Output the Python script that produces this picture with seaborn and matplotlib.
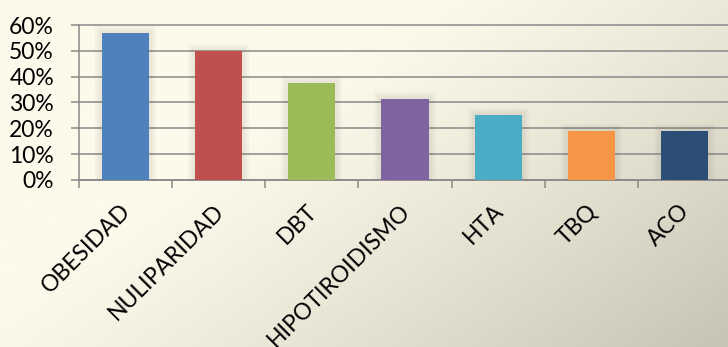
import numpy as np
import pandas as pd
import matplotlib
matplotlib.use("Agg")
import matplotlib.pyplot as plt
import matplotlib.patheffects as pe
from matplotlib.ticker import PercentFormatter, FixedLocator
from matplotlib.transforms import ScaledTranslation
import seaborn as sns

# Frequency of each risk factor among the patients
categories = ["OBESIDAD", "NULIPARIDAD", "DBT", "HIPOTIROIDISMO", "HTA", "TBQ", "ACO"]
values = [0.57, 0.50, 0.375, 0.313, 0.25, 0.19, 0.19]
colors = ["#4F81BD", "#C0504D", "#9BBB59", "#8064A2", "#4BACC6", "#F79646", "#2C4D75"]
y_ticks = [0, 0.1, 0.2, 0.3, 0.4, 0.5, 0.6]

sns.set_theme(style="white")
plt.rcParams["font.family"] = ["Lato", "DejaVu Sans"]

W, H = 728, 347
fig = plt.figure(figsize=(W / 100, H / 100), dpi=100)

# Cream-to-grey diagonal background wash
bg = fig.add_axes([0, 0, 1, 1], zorder=-10)
gx, gy = np.meshgrid(np.linspace(0, 1, 400), np.linspace(0, 1, 200))
t = np.clip((gx * 0.6 + gy * 0.4 - 0.35) / 0.65, 0, 1) ** 1.2
c0 = np.array([253, 250, 235]) / 255
c1 = np.array([200, 196, 179]) / 255
img = c0[None, None, :] * (1 - t[..., None]) + c1[None, None, :] * t[..., None]
bg.imshow(img, aspect="auto", extent=[0, 1, 1, 0])
bg.set_axis_off()

ax = fig.add_axes([79 / W, 1 - 180 / H, 652 / W, 155 / H])
ax.patch.set_alpha(0)

df = pd.DataFrame({"factor": categories, "pct": values})
sns.barplot(data=df, x="factor", y="pct", hue="factor", palette=colors,
            legend=False, width=0.505, saturation=1, ax=ax, zorder=3,
            linewidth=0, edgecolor="none")

# Soft drop shadow around each bar
shadow = [pe.Stroke(linewidth=w, foreground=(0.3, 0.3, 0.25), alpha=0.035)
          for w in (10, 7, 4)] + [pe.Normal()]
for bar in ax.patches:
    bar.set_path_effects(shadow)

grid_c = "#898989"
ax.set_xlim(-0.5, len(categories) - 0.5)
ax.set_ylim(0, 0.6)
ax.set_yticks(y_ticks)
ax.yaxis.set_major_formatter(PercentFormatter(1, decimals=0))
ax.grid(axis="y", color=grid_c, linewidth=1.1, zorder=0)
for gl in ax.get_ygridlines():
    gl.set_clip_on(False)
ax.set_axisbelow(True)

for side in ["top", "right"]:
    ax.spines[side].set_visible(False)
for side in ["left", "bottom"]:
    ax.spines[side].set_color(grid_c)
    ax.spines[side].set_linewidth(1.1)

ax.set_xlabel("")
ax.set_ylabel("")

# Category labels centred under bars, tick marks on category boundaries
ax.xaxis.set_minor_locator(FixedLocator(np.arange(-0.5, len(categories), 1.0)))
ax.tick_params(axis="x", which="major", length=0, pad=20, labelsize=16.5,
               labelcolor="#000000")
ax.tick_params(axis="x", which="minor", length=6, width=1.1, color=grid_c,
               direction="out", bottom=True)
ax.tick_params(axis="y", which="major", length=6, width=1.1, color=grid_c,
               direction="out", left=True, pad=12, labelsize=16.5, labelcolor="#000000")

shift = ScaledTranslation(2 / 100, 0, fig.dpi_scale_trans)
for lab in ax.get_xticklabels():
    lab.set_rotation(45)
    lab.set_ha("right")
    lab.set_va("center")
    lab.set_rotation_mode("anchor")
    lab.set_transform(lab.get_transform() + shift)

fig.savefig("out.png", dpi=100)
